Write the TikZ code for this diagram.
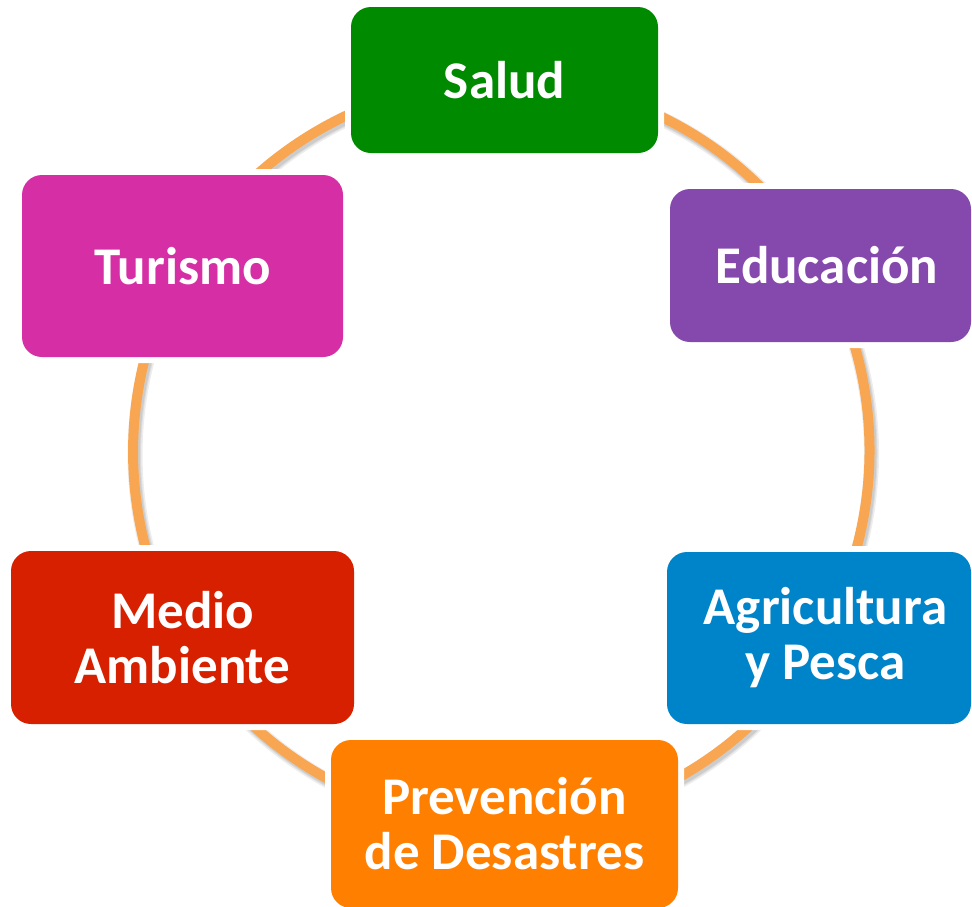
\documentclass[tikz,border=0pt]{standalone}
\usepackage{fontspec}
\setmainfont{Carlito}
\definecolor{cSalud}{HTML}{008A00}
\definecolor{cEduc}{HTML}{8549AE}
\definecolor{cAgri}{HTML}{0084C9}
\definecolor{cPrev}{HTML}{FF7F00}
\definecolor{cMedio}{HTML}{D62000}
\definecolor{cTur}{HTML}{D62FA6}
\definecolor{cRing}{HTML}{F9A652}
\newcommand{\rightpadtxt}{\hspace*{13pt}}
\begin{document}
\begin{tikzpicture}[x=1pt,y=-1pt,
  box/.style={rounded corners=20pt, inner sep=0pt, align=center, text=white,
    font=\fontsize{53}{55}\selectfont\bfseries,
    preaction={draw=white, line width=12pt}},
  ring/.style={draw=cRing, line width=10pt},
  ringshadow/.style={draw=black, line width=#1, opacity=0.07,
    transform canvas={shift={(2pt,-3pt)}}},
  seg/.style={bend left=30, looseness=0.91}
]
\useasboundingbox (0,0) rectangle (972,906);

% node positions (defined first, drawn later over the ring)
\coordinate (pSalud) at (504.5,80);
\coordinate (pEduc)  at (820.5,265.5);
\coordinate (pAgri)  at (819,638);
\coordinate (pPrev)  at (504.5,824);
\coordinate (pMedio) at (182.5,637.5);
\coordinate (pTur)   at (182.5,266);

% ring shadow
\foreach \w in {15pt,12pt,10pt}{
  \draw[ringshadow=\w] (pSalud) to[seg] (pEduc) to[seg] (pAgri) to[seg] (pPrev)
    to[seg] (pMedio) to[seg] (pTur) to[seg] (pSalud);
}
% ring connectors
\draw[ring] (pSalud) to[seg] (pEduc);
\draw[ring] (pEduc)  to[seg] (pAgri);
\draw[ring] (pAgri)  to[seg] (pPrev);
\draw[ring] (pPrev)  to[seg] (pMedio);
\draw[ring] (pMedio) to[seg] (pTur);
\draw[ring] (pTur)   to[seg] (pSalud);

% boxes
\node[box, fill=cSalud, minimum width=307pt, minimum height=146pt] (salud) at (pSalud) {Salud};
\node[box, fill=cEduc,  minimum width=301pt, minimum height=153pt] (educ)  at (pEduc) {\rightpadtxt Educación};
\node[box, fill=cAgri,  minimum width=304pt, minimum height=172pt] (agri)  at (pAgri) {\rightpadtxt Agricultura\\\rightpadtxt y Pesca};
\node[box, fill=cPrev,  minimum width=347pt, minimum height=168pt] (prev)  at (pPrev) {Prevención\\de Desastres};
\node[box, fill=cMedio, minimum width=343pt, minimum height=173pt] (medio) at (pMedio) {Medio\\Ambiente};
\node[box, fill=cTur,   minimum width=321pt, minimum height=182pt] (tur)   at (pTur) {Turismo};
\end{tikzpicture}
\end{document}
